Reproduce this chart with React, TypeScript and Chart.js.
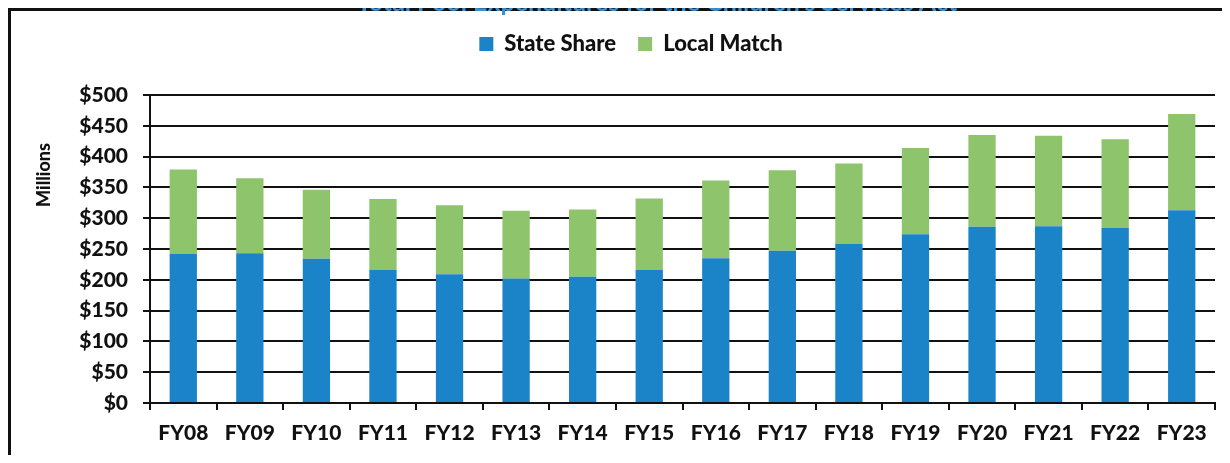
import { useEffect, useRef } from "react";
import { Chart, registerables } from "chart.js";

Chart.register(...registerables);

const categories = ["FY08", "FY09", "FY10", "FY11", "FY12", "FY13", "FY14", "FY15", "FY16", "FY17", "FY18", "FY19", "FY20", "FY21", "FY22", "FY23"];
const stateShare = [242, 243, 234, 216, 209, 202, 205, 216, 235, 247, 258, 274, 286, 287, 284, 313];
const localMatch = [137, 122, 112, 115, 112, 110, 109, 116, 126, 131, 131, 140, 149, 147, 144, 156];
const seriesLabels = ["State Share", "Local Match"];
const yMin = 0;
const yMax = 500;
const yStep = 50;
const yAxisTitle = "Millions";
const chartTitle = "Total Pool Expenditures for the Children's Services Act";

const BLUE = "#1b84c8";
const GREEN = "#8ec46c";
const INK = "#111111";
const FONT = "Lato, 'Open Sans', sans-serif";

export default function App() {
  const ref = useRef<HTMLCanvasElement | null>(null);

  useEffect(() => {
    if (!ref.current) return;

    const legendHeight = {
      id: "legendHeight",
      beforeInit(chart: any) {
        const legend = chart.legend;
        if (!legend) return;
        const orig = legend.fit;
        legend.fit = function () {
          orig.call(this);
          this.height = 84;
        };
      },
    };

    const yTitle = {
      id: "yTitle",
      afterDraw(chart: any) {
        const { ctx, chartArea } = chart;
        ctx.save();
        ctx.font = `900 18px ${FONT}`;
        ctx.fillStyle = INK;
        ctx.translate(33, chartArea.top + 80);
        ctx.rotate(-Math.PI / 2);
        ctx.textAlign = "center";
        ctx.textBaseline = "middle";
        ctx.fillText(yAxisTitle, 0, 0);
        ctx.restore();
      },
    };

    const chart = new Chart(ref.current, {
      type: "bar",
      data: {
        labels: categories,
        datasets: [
          {
            label: seriesLabels[0],
            data: stateShare,
            backgroundColor: BLUE,
            borderWidth: 0,
            barPercentage: 0.41,
            categoryPercentage: 1.0,
          },
          {
            label: seriesLabels[1],
            data: localMatch,
            backgroundColor: GREEN,
            borderWidth: 0,
            barPercentage: 0.41,
            categoryPercentage: 1.0,
          },
        ],
      },
      options: {
        responsive: false,
        animation: false,
        devicePixelRatio: 1,
        layout: { padding: { left: 36, right: 7, top: 0, bottom: 0 } },
        plugins: {
          legend: {
            display: true,
            position: "top",
            labels: {
              color: INK,
              font: { family: FONT, size: 22, weight: "900" },
              boxWidth: 14,
              boxHeight: 14,
              padding: 22,
            },
          },
          tooltip: { enabled: false },
          title: { display: false },
        },
        scales: {
          x: {
            stacked: true,
            afterFit(scale: any) {
              scale.height = 52;
            },
            grid: {
              display: true,
              drawOnChartArea: false,
              drawTicks: true,
              tickLength: 7,
              color: INK,
              lineWidth: 2,
              offset: true,
            },
            border: { display: true, color: INK, width: 2 },
            ticks: {
              color: INK,
              font: { family: FONT, size: 21, weight: "900" },
              padding: 11,
              maxRotation: 0,
              autoSkip: false,
            },
          },
          y: {
            stacked: true,
            min: yMin,
            max: yMax,
            afterFit(scale: any) {
              scale.width = 103;
            },
            grid: {
              display: true,
              drawTicks: true,
              tickLength: 7,
              color: INK,
              lineWidth: 2,
            },
            border: { display: true, color: INK, width: 2 },
            ticks: {
              stepSize: yStep,
              color: INK,
              font: { family: FONT, size: 21, weight: "900" },
              padding: 15,
              callback: (v: any) => "$" + v,
            },
          },
        },
      },
      plugins: [legendHeight, yTitle],
    });

    return () => chart.destroy();
  }, []);

  return (
    <div
      style={{
        position: "relative",
        borderTop: `3px solid ${INK}`,
        borderLeft: `3px solid ${INK}`,
        width: 1211,
        height: 444,
        background: "#fff",
      }}
    >
      <div
        style={{
          position: "absolute",
          top: -24,
          left: 646,
          transform: "translateX(-50%)",
          whiteSpace: "nowrap",
          fontFamily: FONT,
          fontWeight: "bold",
          fontSize: 25,
          lineHeight: "28px",
          color: "#3a8fd4",
        }}
      >
        {chartTitle}
      </div>
      <canvas ref={ref} width={1211} height={444} style={{ display: "block" }} />
    </div>
  );
}
